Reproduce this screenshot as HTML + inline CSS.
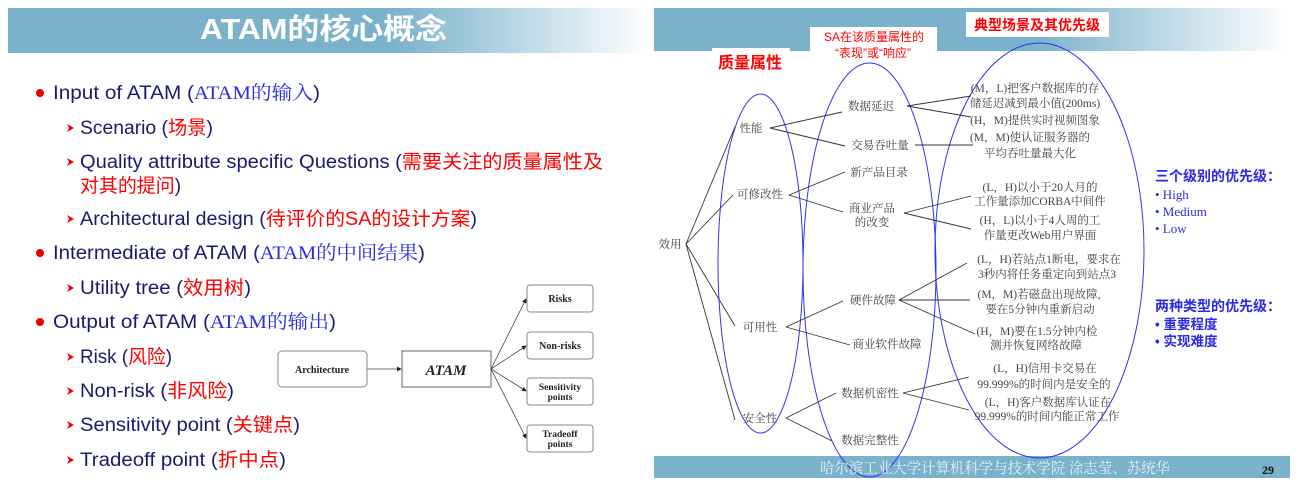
<!DOCTYPE html>
<html><head><meta charset="utf-8"><style>
html,body{margin:0;padding:0;background:#fff;}
svg{display:block;}
.s{font-family:"Liberation Sans","Noto Sans CJK SC",sans-serif;}
.r{font-family:"Liberation Serif","Noto Serif CJK SC",serif;}
</style></head><body>
<svg width="1300" height="486" viewBox="0 0 1300 486" xmlns="http://www.w3.org/2000/svg">
<defs>
<linearGradient id="g1" x1="0" x2="1" y1="0" y2="0">
<stop offset="0" stop-color="#7ab2cc"/><stop offset="0.6" stop-color="#7ab2cc"/><stop offset="1" stop-color="#ffffff"/>
</linearGradient>
<marker id="ar" markerWidth="6" markerHeight="6" refX="5" refY="3" orient="auto"><path d="M0,0 L6,3 L0,6z" fill="#222"/></marker>
</defs>
<!-- Left panel -->
<rect x="8" y="8" width="642" height="45" fill="url(#g1)"/>
<text x="200" y="39" class="s" font-size="29" font-weight="bold" fill="#fff" textLength="247" lengthAdjust="spacingAndGlyphs">ATAM的核心概念</text>

<g class="s" font-size="19" fill="#1a1a6e">
<circle cx="40" cy="93" r="4" fill="#e00"/>
<text x="53" y="99" textLength="267" lengthAdjust="spacingAndGlyphs">Input of ATAM (<tspan class="r" fill="#2a2ae8">ATAM的输入</tspan>)</text>
<text x="80" y="134" textLength="133" lengthAdjust="spacingAndGlyphs">Scenario (<tspan fill="#f00">场景</tspan>)</text>
<text x="80" y="168" textLength="523" lengthAdjust="spacingAndGlyphs">Quality attribute specific Questions (<tspan fill="#f00">需要关注的质量属性及</tspan></text>
<text x="80" y="192" textLength="101" lengthAdjust="spacingAndGlyphs"><tspan fill="#f00">对其的提问</tspan>)</text>
<text x="80" y="225" textLength="397" lengthAdjust="spacingAndGlyphs">Architectural design (<tspan fill="#f00">待评价的SA的设计方案</tspan>)</text>
<circle cx="40" cy="253" r="4" fill="#e00"/>
<text x="53" y="259" textLength="372" lengthAdjust="spacingAndGlyphs">Intermediate of ATAM (<tspan class="r" fill="#2a2ae8">ATAM的中间结果</tspan>)</text>
<text x="80" y="294" textLength="171" lengthAdjust="spacingAndGlyphs">Utility tree (<tspan fill="#f00">效用树</tspan>)</text>
<circle cx="40" cy="322" r="4" fill="#e00"/>
<text x="53" y="328" textLength="283" lengthAdjust="spacingAndGlyphs">Output of ATAM (<tspan class="r" fill="#2a2ae8">ATAM的输出</tspan>)</text>
<text x="80" y="363" textLength="92" lengthAdjust="spacingAndGlyphs">Risk (<tspan fill="#f00">风险</tspan>)</text>
<text x="80" y="397" textLength="154" lengthAdjust="spacingAndGlyphs">Non-risk (<tspan fill="#f00">非风险</tspan>)</text>
<text x="80" y="431" textLength="220" lengthAdjust="spacingAndGlyphs">Sensitivity point (<tspan fill="#f00">关键点</tspan>)</text>
<text x="80" y="466" textLength="206" lengthAdjust="spacingAndGlyphs">Tradeoff point (<tspan fill="#f00">折中点</tspan>)</text>
</g>
<g fill="#e00">
<path d="M67,124 L74,128 L67,132 L69,128z"/>
<path d="M67,158 L74,162 L67,166 L69,162z"/>
<path d="M67,215 L74,219 L67,223 L69,219z"/>
<path d="M67,284 L74,288 L67,292 L69,288z"/>
<path d="M67,353 L74,357 L67,361 L69,357z"/>
<path d="M67,387 L74,391 L67,395 L69,391z"/>
<path d="M67,421 L74,425 L67,429 L69,425z"/>
<path d="M67,456 L74,460 L67,464 L69,460z"/>
</g>

<!-- ATAM diagram -->
<g stroke="#888" fill="#fff" stroke-width="1">
<rect x="278" y="351" width="89" height="36" rx="4"/>
<rect x="402" y="351" width="89" height="36" stroke="#666"/>
<rect x="527" y="285" width="66" height="27" rx="3"/>
<rect x="527" y="332" width="66" height="27" rx="3"/>
<rect x="527" y="378" width="66" height="27" rx="3"/>
<rect x="527" y="425" width="66" height="27" rx="3"/>
</g>
<g stroke="#444" stroke-width="0.8" fill="none" marker-end="url(#ar)">
<line x1="367" y1="369" x2="401" y2="369"/>
<line x1="491" y1="369" x2="526" y2="299"/>
<line x1="491" y1="369" x2="526" y2="346"/>
<line x1="491" y1="369" x2="526" y2="391"/>
<line x1="491" y1="369" x2="526" y2="438"/>
</g>
<g class="r" font-weight="bold" fill="#222" text-anchor="middle">
<text x="322" y="373" font-size="10">Architecture</text>
<text x="446" y="375" font-size="15" font-style="italic">ATAM</text>
<text x="560" y="302" font-size="10">Risks</text>
<text x="560" y="349" font-size="10">Non-risks</text>
<text x="560" y="390" font-size="9.5">Sensitivity</text>
<text x="560" y="400" font-size="9.5">points</text>
<text x="560" y="437" font-size="9.5">Tradeoff</text>
<text x="560" y="447" font-size="9.5">points</text>
</g>

<!-- Right panel -->
<rect x="654" y="8" width="636" height="43" fill="url(#g1)"/>
<rect x="654" y="456" width="636" height="22" fill="#7ab2cc"/>
<rect x="712" y="48" width="78" height="26" fill="#fff"/>
<rect x="810" y="27" width="127" height="24" fill="#fff"/>
<rect x="966" y="12" width="143" height="25" fill="#fff"/>
<g class="s" fill="#f00" text-anchor="middle">
<text x="750" y="68" font-size="16" font-weight="bold">质量属性</text>
<text x="874" y="41" font-size="12">SA在该质量属性的</text>
<text x="873" y="57" font-size="12">“表现”或“响应”</text>
<text x="1037" y="30" font-size="14" font-weight="bold">典型场景及其优先级</text>
</g>

<g fill="none" stroke="#3333ee" stroke-width="1">
<ellipse cx="760.5" cy="263.5" rx="42.5" ry="169.5"/>
<ellipse cx="869.5" cy="270" rx="66.5" ry="207"/>
<ellipse cx="1039.5" cy="250.5" rx="104.5" ry="207.5"/>
</g>

<g stroke="#333" stroke-width="0.9" fill="none">
<line x1="686" y1="244" x2="735" y2="127"/>
<line x1="686" y1="244" x2="733" y2="195"/>
<line x1="686" y1="244" x2="735" y2="326"/>
<line x1="686" y1="244" x2="735" y2="420"/>
<line x1="770" y1="128" x2="842" y2="112"/>
<line x1="770" y1="128" x2="845" y2="146"/>
<line x1="907" y1="106" x2="971" y2="96"/>
<line x1="907" y1="106" x2="971" y2="117"/>
<line x1="915" y1="145" x2="973" y2="145"/>
<line x1="789" y1="195" x2="845" y2="172"/>
<line x1="789" y1="195" x2="843" y2="212"/>
<line x1="904" y1="213" x2="971" y2="196"/>
<line x1="904" y1="213" x2="971" y2="229"/>
<line x1="786" y1="327" x2="843" y2="301"/>
<line x1="786" y1="327" x2="850" y2="345"/>
<line x1="899" y1="300" x2="967" y2="263"/>
<line x1="899" y1="300" x2="970" y2="300"/>
<line x1="899" y1="300" x2="975" y2="334"/>
<line x1="786" y1="418" x2="836" y2="393"/>
<line x1="786" y1="418" x2="832" y2="441"/>
<line x1="903" y1="393" x2="969" y2="377"/>
<line x1="903" y1="393" x2="969" y2="410"/>
</g>

<g class="r" font-size="11.5" fill="#444" text-anchor="middle">
<text x="670" y="248">效用</text>
<text x="751" y="132">性能</text>
<text x="760" y="198">可修改性</text>
<text x="760" y="331">可用性</text>
<text x="760" y="422">安全性</text>
<text x="871" y="110">数据延迟</text>
<text x="880" y="149">交易吞吐量</text>
<text x="879" y="176">新产品目录</text>
<text x="872" y="212">商业产品</text>
<text x="872" y="226">的改变</text>
<text x="873" y="304">硬件故障</text>
<text x="887" y="348">商业软件故障</text>
<text x="870" y="397">数据机密性</text>
<text x="870" y="444">数据完整性</text>
</g>
<g class="r" font-size="11.5" fill="#444" text-anchor="middle">
<text x="1035" y="92">(M，L)把客户数据库的存</text>
<text x="1035" y="107">储延迟减到最小值(200ms)</text>
<text x="1035" y="124">(H，M)提供实时视频图象</text>
<text x="1030" y="141">(M，M)使认证服务器的</text>
<text x="1030" y="157">平均吞吐量最大化</text>
<text x="1040" y="191">(L，H)以小于20人月的</text>
<text x="1040" y="205">工作量添加CORBA中间件</text>
<text x="1040" y="224">(H，L)以小于4人周的工</text>
<text x="1040" y="239">作量更改Web用户界面</text>
<text x="1049" y="263">(L，H)若站点1断电，要求在</text>
<text x="1047" y="278">3秒内将任务重定向到站点3</text>
<text x="1039" y="298">(M，M)若磁盘出现故障,</text>
<text x="1040" y="313">要在5分钟内重新启动</text>
<text x="1037" y="335">(H，M)要在1.5分钟内检</text>
<text x="1036" y="349">测并恢复网络故障</text>
<text x="1045" y="372">(L，H)信用卡交易在</text>
<text x="1044" y="388">99.999%的时间内是安全的</text>
<text x="1048" y="406">(L，H)客户数据库认证在</text>
<text x="1047" y="420">99.999%的时间内能正常工作</text>
</g>

<g fill="#2a2ae8">
<text x="1155" y="181" class="s" font-size="14" font-weight="bold">三个级别的优先级：</text>
<text x="1155" y="199" class="r" font-size="13">• High</text>
<text x="1155" y="216" class="r" font-size="13">• Medium</text>
<text x="1155" y="233" class="r" font-size="13">• Low</text>
<text x="1155" y="311" class="s" font-size="14" font-weight="bold">两种类型的优先级：</text>
<text x="1155" y="329" class="s" font-size="13.5" font-weight="bold">• 重要程度</text>
<text x="1155" y="346" class="s" font-size="13.5" font-weight="bold">• 实现难度</text>
</g>

<text x="820" y="473" class="r" font-size="15" fill="#e4f0f6" textLength="350" lengthAdjust="spacingAndGlyphs">哈尔滨工业大学计算机科学与技术学院 涂志莹、苏统华</text>
<text x="1268" y="474" text-anchor="middle" class="r" font-size="12" font-weight="bold" fill="#111">29</text>
</svg>
</body></html>
